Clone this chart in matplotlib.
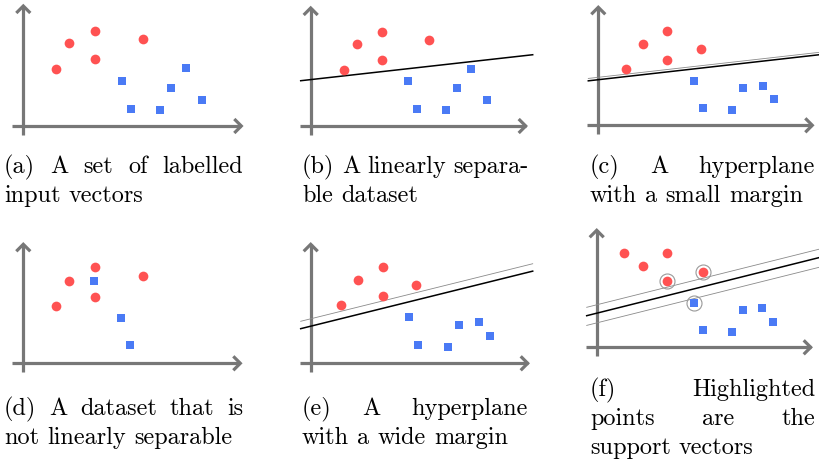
import matplotlib
matplotlib.use("Agg")
import matplotlib.pyplot as plt

W, H = 820, 460
RED = "#ff5252"
BLUE = "#4a7af5"
GREY = "#777777"
FS = 17.5

# every panel uses pixels measured from its own axis origin (x right, y up)
a_red_x = [33, 46, 72, 72, 120]
a_red_y = [57, 83, 95, 67, 87]
a_blue_x = [99, 108, 137, 148, 163, 179]
a_blue_y = [45, 17, 16, 38, 58, 26]

b_red_x = [33, 46, 71, 71, 118]
b_red_y = [56, 82, 94, 66, 86]
b_blue_x = [97, 106, 135, 146, 160, 176]
b_blue_y = [45, 17, 16, 38, 57, 26]
b_line = (46.4, 0.112)

c_red_x = [28, 45, 69, 69, 103]
c_red_y = [56, 81, 94, 65, 76]
c_blue_x = [96, 105, 134, 145, 165, 176]
c_blue_y = [44, 17, 15, 37, 39, 26]
c_line = (45.6, 0.113)
c_margins = [2.4]

d_red_x = [33, 46, 72, 72, 120]
d_red_y = [57, 82, 96, 66, 87]
d_blue_x = [71, 98, 107]
d_blue_y = [82, 45, 18]

e_red_x = [30, 47, 72, 72, 105]
e_red_y = [58, 83, 96, 67, 78]
e_blue_x = [98, 107, 137, 148, 168, 179]
e_blue_y = [46, 18, 16, 38, 41, 27]
e_line = (37.1, 0.248)
e_margins = [7.4]

f_red_x = [27, 46, 70, 70, 106]
f_red_y = [94, 81, 94, 66, 75]
f_blue_x = [97, 106, 135, 146, 165, 176]
f_blue_y = [44, 17, 15, 37, 39, 25]
f_line = (34.1, 0.25)
f_margins = [8.4, -9.7]
f_sv_x = [70, 106, 97]
f_sv_y = [66, 75, 44]

cap_a = ["(a) A set of labelled", "input vectors"]
cap_b = ["(b) A linearly separa-", "ble dataset"]
cap_c = ["(c) A hyperplane", "with a small margin"]
cap_d = ["(d) A dataset that is", "not linearly separable"]
cap_e = ["(e) A hyperplane", "with a wide margin"]
cap_f = ["(f) Highlighted", "points are the", "support vectors"]

fig = plt.figure(figsize=(W / 100, H / 100), dpi=100)
renderer = fig.canvas.get_renderer()


def panel(ox, oy, xtip, ytip):
    ax = fig.add_axes([(ox - 25) / W, (H - oy - 12) / H, 250 / W, 140 / H])
    ax.set_xlim(-25, 225)
    ax.set_ylim(-12, 128)
    ax.axis("off")
    kw = dict(color=GREY, lw=2.3, solid_capstyle="butt", solid_joinstyle="miter", clip_on=False)
    ax.plot([-11, xtip], [0, 0], **kw)
    ax.plot([0, 0], [-9, ytip], **kw)
    ax.plot([xtip - 7, xtip, xtip - 7], [7, 0, -7], **kw)
    ax.plot([-7, 0, 7], [ytip - 7, ytip, ytip - 7], **kw)
    return ax


def points(ax, rx, ry, bx, by):
    ax.plot(rx, ry, "o", color=RED, ms=7.0, mew=0, zorder=5)
    ax.plot(bx, by, "s", color=BLUE, ms=5.4, mew=0, zorder=5)


def hyperplane(ax, line, margins=()):
    b, m = line
    xs = [-10, 222]
    ax.plot(xs, [b + m * x for x in xs], color="black", lw=1.1, zorder=3, clip_on=False)
    for off in margins:
        ax.plot(xs, [b + off + m * x for x in xs], color="#8a8a8a", lw=0.6, zorder=3, clip_on=False)


def caption(lines, left, right, base, step=29):
    # justified lines like the LaTeX source, last line set ragged
    space = FS * 100 / 72 * 0.333
    for i, line in enumerate(lines):
        y = 1 - (base + i * step) / H
        texts = [fig.text(0, y, w, fontsize=FS, family="cmr10", va="baseline") for w in line.split()]
        widths = [t.get_window_extent(renderer).width for t in texts]
        gap = space
        if i < len(lines) - 1 and len(texts) > 1:
            gap = (right - left - sum(widths)) / (len(texts) - 1)
        x = left
        for t, w in zip(texts, widths):
            t.set_x(x / W)
            x += w + gap


ax = panel(23.3, 127, 218, 120)
points(ax, a_red_x, a_red_y, a_blue_x, a_blue_y)

ax = panel(310.7, 127, 215, 118)
points(ax, b_red_x, b_red_y, b_blue_x, b_blue_y)
hyperplane(ax, b_line)

ax = panel(598.3, 126.3, 214, 118)
points(ax, c_red_x, c_red_y, c_blue_x, c_blue_y)
hyperplane(ax, c_line, c_margins)

ax = panel(23.3, 364.3, 217, 119)
points(ax, d_red_x, d_red_y, d_blue_x, d_blue_y)

ax = panel(310.7, 364.3, 217, 119)
points(ax, e_red_x, e_red_y, e_blue_x, e_blue_y)
hyperplane(ax, e_line, e_margins)

ax = panel(596.7, 348.3, 214, 117)
points(ax, f_red_x, f_red_y, f_blue_x, f_blue_y)
hyperplane(ax, f_line, f_margins)
ax.plot(f_sv_x, f_sv_y, "o", mfc="none", mec="#999999", mew=0.8, ms=10.8, zorder=6)

caption(cap_a, 4, 243, 173)
caption(cap_b, 302, 529, 173)
caption(cap_c, 590, 815, 173)
caption(cap_d, 4, 243, 415)
caption(cap_e, 302, 528, 415)
caption(cap_f, 590, 815, 396)

fig.savefig("out.png", dpi=100)
